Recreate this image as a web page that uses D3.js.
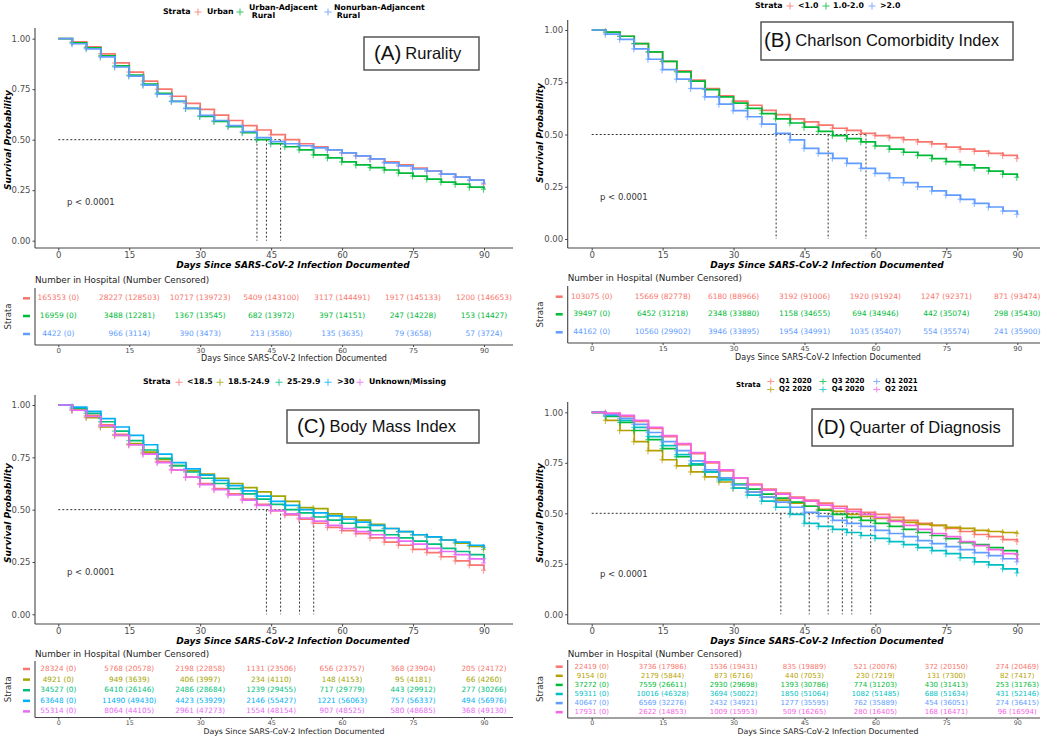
<!DOCTYPE html>
<html><head><meta charset="utf-8">
<script src="https://cdn.jsdelivr.net/npm/d3@7"></script>
<style>body{margin:0;background:#fff;} svg{display:block;font-family:"DejaVu Sans",sans-serif;}</style>
</head><body><svg id="c" width="1050" height="738"></svg>
<script>
// ---------- DATA ----------
const days = [0,3,6,9,12,15,18,21,24,27,30,33,36,39,42,45,48,51,54,57,60,63,66,69,72,75,78,81,84,87,90];
const xTicks = [0,15,30,45,60,75,90];
const yTicks = [0,0.25,0.5,0.75,1];

// (A) Rurality
const ruralityLabels = [["Urban"],["Urban-Adjacent"," Rural"],["Nonurban-Adjancent"," Rural"]];
const ruralityUrban = [1.00,0.985,0.96,0.925,0.88,0.835,0.79,0.75,0.715,0.68,0.65,0.622,0.595,0.57,0.548,0.525,0.50,0.48,0.465,0.45,0.435,0.42,0.405,0.39,0.375,0.36,0.345,0.33,0.315,0.30,0.28];
const ruralityAdj = [1.00,0.98,0.955,0.915,0.865,0.82,0.775,0.73,0.69,0.655,0.615,0.59,0.565,0.535,0.50,0.48,0.465,0.45,0.425,0.41,0.39,0.375,0.362,0.35,0.335,0.32,0.305,0.29,0.28,0.265,0.255];
const ruralityNon = [1.00,0.975,0.95,0.91,0.86,0.815,0.77,0.725,0.69,0.655,0.62,0.595,0.57,0.54,0.51,0.49,0.48,0.47,0.46,0.45,0.435,0.42,0.405,0.385,0.37,0.355,0.345,0.33,0.315,0.30,0.285];
const ruralityMedians = [42,44,47];
const riskUrban = ["165353 (0)","28227 (128503)","10717 (139723)","5409 (143100)","3117 (144491)","1917 (145133)","1200 (146653)"];
const riskAdj = ["16959 (0)","3488 (12281)","1367 (13545)","682 (13972)","397 (14151)","247 (14228)","153 (14427)"];
const riskNon = ["4422 (0)","966 (3114)","390 (3473)","213 (3580)","135 (3635)","79 (3658)","57 (3724)"];

// (B) Charlson
const cciLabels = [["<1.0"],["1.0-2.0"],[">2.0"]];
const cciLow = [1.00,0.99,0.97,0.935,0.895,0.85,0.805,0.76,0.72,0.685,0.66,0.64,0.615,0.595,0.575,0.56,0.545,0.53,0.52,0.505,0.495,0.485,0.475,0.465,0.455,0.44,0.43,0.42,0.41,0.40,0.385];
const cciMid = [1.00,0.99,0.97,0.935,0.895,0.85,0.80,0.755,0.715,0.68,0.65,0.625,0.60,0.575,0.555,0.535,0.515,0.495,0.48,0.465,0.445,0.43,0.415,0.40,0.385,0.37,0.355,0.34,0.325,0.31,0.295];
const cciHigh = [1.00,0.98,0.955,0.91,0.86,0.81,0.765,0.72,0.68,0.645,0.614,0.585,0.55,0.505,0.474,0.434,0.41,0.386,0.362,0.338,0.314,0.293,0.27,0.25,0.23,0.21,0.19,0.17,0.153,0.134,0.118];
const cciMedians = [39,50,58];
const riskLow = ["103075 (0)","15669 (82778)","6180 (88966)","3192 (91006)","1920 (91924)","1247 (92371)","871 (93474)"];
const riskMid = ["39497 (0)","6452 (31218)","2348 (33880)","1158 (34655)","694 (34946)","442 (35074)","298 (35430)"];
const riskHigh = ["44162 (0)","10560 (29902)","3946 (33895)","1954 (34991)","1035 (35407)","554 (35574)","241 (35900)"];

// (C) BMI
const bmiLabels = [["<18.5"],["18.5-24.9"],["25-29.9"],[">30"],["Unknown/Missing"]];
const bmiUnder = [1.00,0.98,0.95,0.905,0.86,0.81,0.77,0.73,0.69,0.655,0.625,0.60,0.575,0.55,0.525,0.495,0.475,0.455,0.435,0.415,0.40,0.385,0.365,0.345,0.33,0.31,0.295,0.275,0.255,0.235,0.21];
const bmiNormal = [1.00,0.975,0.94,0.895,0.855,0.815,0.775,0.74,0.71,0.685,0.67,0.65,0.625,0.605,0.585,0.565,0.54,0.51,0.505,0.48,0.465,0.45,0.43,0.41,0.395,0.38,0.37,0.355,0.34,0.325,0.31];
const bmiOver = [1.00,0.985,0.96,0.92,0.875,0.83,0.785,0.745,0.71,0.68,0.65,0.625,0.60,0.575,0.55,0.525,0.50,0.485,0.465,0.45,0.435,0.415,0.40,0.38,0.365,0.35,0.335,0.315,0.30,0.285,0.265];
const bmiObese = [1.00,0.99,0.97,0.935,0.895,0.855,0.81,0.765,0.725,0.695,0.665,0.64,0.615,0.59,0.565,0.54,0.52,0.50,0.485,0.47,0.455,0.44,0.425,0.41,0.395,0.38,0.37,0.355,0.345,0.33,0.32];
const bmiUnknown = [1.00,0.975,0.945,0.90,0.855,0.81,0.765,0.725,0.69,0.655,0.62,0.595,0.57,0.545,0.52,0.495,0.48,0.46,0.445,0.425,0.41,0.395,0.38,0.365,0.35,0.335,0.315,0.30,0.285,0.265,0.245];
const bmiMedians = [44,47,51,54];
const riskUnder = ["28324 (0)","5768 (20578)","2198 (22858)","1131 (23506)","656 (23757)","368 (23904)","205 (24172)"];
const riskNormal = ["4921 (0)","949 (3639)","406 (3997)","234 (4110)","148 (4153)","95 (4181)","66 (4260)"];
const riskOver = ["34527 (0)","6410 (26146)","2486 (28684)","1239 (29455)","717 (29779)","443 (29912)","277 (30266)"];
const riskObese = ["63648 (0)","11490 (49430)","4423 (53929)","2146 (55427)","1221 (56063)","757 (56337)","494 (56976)"];
const riskUnknown = ["55314 (0)","8064 (44105)","2961 (47273)","1554 (48154)","907 (48525)","580 (48685)","368 (49130)"];

// (D) Quarter
const qLabels = [["Q1 2020"],["Q2 2020"],["Q3 2020"],["Q4 2020"],["Q1 2021"],["Q2 2021"]];
const q1_2020 = [1.00,0.995,0.98,0.955,0.92,0.88,0.84,0.795,0.75,0.71,0.675,0.645,0.62,0.60,0.58,0.565,0.55,0.535,0.52,0.505,0.495,0.48,0.465,0.45,0.44,0.425,0.41,0.395,0.385,0.37,0.36];
const q2_2020 = [1.00,0.96,0.91,0.855,0.81,0.765,0.735,0.705,0.68,0.655,0.625,0.605,0.58,0.565,0.55,0.535,0.52,0.51,0.495,0.485,0.475,0.465,0.455,0.445,0.44,0.43,0.425,0.415,0.41,0.405,0.40];
const q3_2020 = [1.00,0.98,0.95,0.91,0.865,0.82,0.78,0.74,0.705,0.675,0.645,0.62,0.595,0.575,0.555,0.535,0.515,0.495,0.48,0.465,0.45,0.435,0.42,0.405,0.39,0.375,0.355,0.345,0.33,0.315,0.295];
const q4_2020 = [1.00,0.985,0.96,0.925,0.88,0.835,0.79,0.745,0.705,0.665,0.625,0.59,0.56,0.53,0.495,0.45,0.435,0.42,0.405,0.39,0.376,0.36,0.345,0.33,0.315,0.30,0.28,0.26,0.245,0.225,0.205];
const q1_2021 = [1.00,0.99,0.97,0.94,0.90,0.855,0.81,0.76,0.715,0.675,0.64,0.605,0.58,0.555,0.53,0.505,0.485,0.465,0.45,0.435,0.415,0.40,0.385,0.365,0.35,0.335,0.32,0.305,0.29,0.275,0.26];
const q2_2021 = [1.00,0.995,0.985,0.96,0.925,0.885,0.845,0.80,0.755,0.715,0.675,0.64,0.615,0.595,0.575,0.56,0.54,0.525,0.51,0.495,0.48,0.46,0.44,0.42,0.40,0.385,0.36,0.34,0.32,0.30,0.275];
const qMedians = [40,46,50,53,55,59];
const riskQ1_20 = ["22419 (0)","3736 (17986)","1536 (19431)","835 (19889)","521 (20076)","372 (20150)","274 (20469)"];
const riskQ2_20 = ["9154 (0)","2179 (5844)","873 (6716)","440 (7053)","230 (7219)","131 (7300)","82 (7417)"];
const riskQ3_20 = ["37272 (0)","7559 (26611)","2930 (29698)","1393 (30786)","774 (31203)","430 (31413)","253 (31763)"];
const riskQ4_20 = ["59311 (0)","10016 (46328)","3694 (50022)","1850 (51064)","1082 (51485)","688 (51634)","431 (52146)"];
const riskQ1_21 = ["40647 (0)","6569 (32276)","2432 (34921)","1277 (35595)","762 (35889)","454 (36051)","274 (36415)"];
const riskQ2_21 = ["17931 (0)","2622 (14853)","1009 (15953)","509 (16265)","280 (16405)","168 (16471)","96 (16594)"];

// ---------- STYLE ----------
const pal3 = ["#F8766D","#00BA38","#619CFF"];
const pal5 = ["#F8766D","#A3A500","#00BF7D","#00B0F6","#E76BF3"];
const pal6 = ["#F8766D","#B79F00","#00BA38","#00BFC4","#619CFF","#F564E3"];

const svg = d3.select("#c");
const axisCol = "#444";
const xTitle = "Days Since SARS-CoV-2 Infection Documented";

function drawPanel(P) {
  const g = svg.append("g");
  const x = d3.scaleLinear().domain([0,90]).range([P.x0, P.x90]);
  const y = d3.scaleLinear().domain([0,1]).range([P.y0, P.y1]);

  g.append("line").attr("x1",P.axisX).attr("x2",P.axisX).attr("y1",P.yTop).attr("y2",P.axisY)
    .attr("stroke",axisCol).attr("stroke-width",1.1);
  g.append("line").attr("x1",P.axisX).attr("x2",P.xEnd).attr("y1",P.axisY).attr("y2",P.axisY)
    .attr("stroke",axisCol).attr("stroke-width",1.1);

  const ya = g.append("g").attr("transform",`translate(${P.axisX},0)`)
    .call(d3.axisLeft(y).tickValues(yTicks).tickFormat(d3.format(".2f")).tickSize(2.5).tickPadding(2));
  ya.select(".domain").remove();
  ya.selectAll("line").attr("stroke",axisCol);
  ya.selectAll("text").attr("font-size",8.5).attr("fill","#4d4d4d").attr("font-family","DejaVu Sans");

  const xa = g.append("g").attr("transform",`translate(0,${P.axisY})`)
    .call(d3.axisBottom(x).tickValues(xTicks).tickSize(2.5).tickPadding(1.5));
  xa.select(".domain").remove();
  xa.selectAll("line").attr("stroke",axisCol);
  xa.selectAll("text").attr("font-size",8.5).attr("fill","#4d4d4d").attr("font-family","DejaVu Sans");

  g.append("text").attr("transform",`translate(${P.ylabX},${P.ylabY}) rotate(-90)`)
    .attr("text-anchor","middle").attr("dominant-baseline","middle")
    .attr("font-size",9).attr("font-weight","bold").attr("font-style","italic").text("Survival Probability");
  g.append("text").attr("x",P.xtitleX).attr("y",P.xtitleY).attr("text-anchor","middle").attr("dominant-baseline","middle")
    .attr("font-size",9).attr("font-weight","bold").attr("font-style","italic").text(xTitle);

  // median lines
  const mMax = d3.max(P.medians);
  g.append("line").attr("x1",x(0)).attr("x2",x(mMax)).attr("y1",y(0.5)).attr("y2",y(0.5))
    .attr("stroke","#333").attr("stroke-width",1).attr("stroke-dasharray","2,2");
  P.medians.forEach(m => {
    g.append("line").attr("x1",x(m)).attr("x2",x(m)).attr("y1",y(0.5)).attr("y2",y(0))
      .attr("stroke","#333").attr("stroke-width",1).attr("stroke-dasharray","2,2");
  });

  // curves
  const line = d3.line().curve(d3.curveStepAfter).x(d=>x(d[0])).y(d=>y(d[1]));
  P.series.forEach((s,i) => {
    const pts = days.map((d,j)=>[d,s[j]]);
    g.append("path").attr("d",line(pts)).attr("fill","none").attr("stroke",P.colors[i]).attr("stroke-width",1.7);
    const mg = g.append("g").attr("stroke",P.colors[i]).attr("stroke-width",1.2).attr("opacity",0.65);
    pts.slice(1).forEach(p => {
      const cx = x(p[0]) - 0.5, cy = y(p[1]);
      mg.append("line").attr("x1",cx).attr("x2",cx).attr("y1",cy-3.5).attr("y2",cy+3.5);
      mg.append("line").attr("x1",cx-2.5).attr("x2",cx+2.5).attr("y1",cy).attr("y2",cy);
    });
  });

  g.append("text").attr("x",P.pX).attr("y",P.pY).attr("dominant-baseline","middle")
    .attr("font-size",8.5).attr("fill","#333").text("p < 0.0001");

  const b = P.box;
  g.append("rect").attr("x",b[0]).attr("y",b[1]).attr("width",b[2]-b[0]).attr("height",b[3]-b[1])
    .attr("fill","#fff").attr("stroke","#555").attr("stroke-width",1.5);
  const tt = g.append("text").attr("x",b[0]+P.boxPad).attr("y",(b[1]+b[3])/2+1).attr("dominant-baseline","middle")
    .attr("font-family","Liberation Sans, Arial, sans-serif").attr("fill","#111");
  tt.append("tspan").attr("font-size",20.5).text(P.tag);
  tt.append("tspan").attr("font-size",16.5).attr("dx",4).text(P.title);

  const L = P.legend;
  const lfs = L.fs || 7.8;
  g.append("text").attr("x",L.strataX).attr("y",L.strataY).attr("dominant-baseline","middle")
    .attr("font-size",lfs).attr("font-weight","bold").text("Strata");
  P.labels.forEach((lab,i) => {
    const px = L.plusX[i], py = L.rowY[i];
    const ps = L.plus || 3.5;
    const lg = g.append("g").attr("stroke",P.colors[i]).attr("stroke-width",1.1).attr("opacity",0.75);
    lg.append("line").attr("x1",px).attr("x2",px).attr("y1",py-ps).attr("y2",py+ps);
    lg.append("line").attr("x1",px-3.5).attr("x2",px+3.5).attr("y1",py).attr("y2",py);
    const t = g.append("text").attr("font-size",lfs).attr("font-weight","bold");
    if (lab.length === 1) {
      t.attr("x",L.textX[i]).attr("y",py).attr("dominant-baseline","middle").text(lab[0]);
    } else {
      lab.forEach((ln,k) => {
        t.append("tspan").attr("x",L.textX[i]).attr("y",py-4+k*8).attr("dominant-baseline","middle")
          .style("white-space","pre").text(ln);
      });
    }
  });

  const T = P.table;
  g.append("text").attr("x",P.axisX).attr("y",T.headY).attr("dominant-baseline","middle")
    .attr("font-size",8.8).attr("fill","#222").text("Number in Hospital (Number Censored)");
  g.append("line").attr("x1",P.axisX).attr("x2",P.axisX).attr("y1",T.top).attr("y2",T.bottom)
    .attr("stroke",axisCol).attr("stroke-width",1.1);
  g.append("line").attr("x1",P.axisX).attr("x2",P.xEnd).attr("y1",T.bottom).attr("y2",T.bottom)
    .attr("stroke",axisCol).attr("stroke-width",1.1);
  const ta = g.append("g").attr("transform",`translate(0,${T.bottom})`)
    .call(d3.axisBottom(x).tickValues(xTicks).tickSize(2).tickPadding(1));
  ta.select(".domain").remove();
  ta.selectAll("line").attr("stroke",axisCol);
  ta.selectAll("text").attr("font-size",T.tickFs).attr("fill","#4d4d4d").attr("font-family","DejaVu Sans");
  g.append("text").attr("x",T.titleX).attr("y",T.titleY).attr("text-anchor","middle").attr("dominant-baseline","middle")
    .attr("font-size",T.titleFs).attr("fill","#222").text(xTitle);
  g.append("text").attr("transform",`translate(${P.ylabX},${(T.top+T.bottom)/2}) rotate(-90)`)
    .attr("text-anchor","middle").attr("dominant-baseline","middle")
    .attr("font-size",8.5).attr("fill","#333").text("Strata");
  P.risk.forEach((row,i) => {
    const ry = T.rows[i];
    g.append("line").attr("x1",P.axisX-12).attr("x2",P.axisX-5).attr("y1",ry).attr("y2",ry)
      .attr("stroke",P.colors[i]).attr("stroke-width",2.5);
    row.forEach((txt,j) => {
      g.append("text").attr("x",x(xTicks[j])).attr("y",ry).attr("text-anchor","middle").attr("dominant-baseline","middle")
        .attr("font-size",T.fs).attr("fill",P.colors[i]).text(txt);
    });
  });
}

const leftCol = {axisX:35, xEnd:513, x0:58.3, x90:484, ylabX:8, xtitleX:293};
const rightCol = {axisX:567.7, xEnd:1040, x0:591.7, x90:1017.3, ylabX:540, xtitleX:827};

drawPanel(Object.assign({}, leftCol, {
  y1:38.7, y0:240.7, yTop:28, axisY:248, ylabY:140, xtitleY:265.5, pX:67, pY:202,
  box:[364,37,479,70], boxPad:10, tag:"(A)", title:"Rurality",
  series:[ruralityUrban,ruralityAdj,ruralityNon], colors:pal3, medians:ruralityMedians, labels:ruralityLabels,
  legend:{strataX:163, strataY:12.3, plusX:[198,240,328], textX:[207,249,334], rowY:[12,12,12]},
  risk:[riskUrban,riskAdj,riskNon],
  table:{headY:280, top:288, bottom:345, rows:[298.3,316,334], titleX:294, titleY:358.5, fs:7.5, tickFs:7, titleFs:8}
}));

drawPanel(Object.assign({}, rightCol, {
  y1:30, y0:239, yTop:20, axisY:248, ylabY:133, xtitleY:265.5, pX:600, pY:197,
  box:[761,22,1013,60], boxPad:3, tag:"(B)", title:"Charlson Comorbidity Index",
  series:[cciLow,cciMid,cciHigh], colors:pal3, medians:cciMedians, labels:cciLabels,
  legend:{strataX:755, strataY:6, plusX:[790,826,872], textX:[798,833,880], rowY:[6,6,6]},
  risk:[riskLow,riskMid,riskHigh],
  table:{headY:278, top:286, bottom:343, rows:[296.7,314.3,332.3], titleX:828, titleY:357.5, fs:7.5, tickFs:7, titleFs:8}
}));

drawPanel(Object.assign({}, leftCol, {
  y1:405, y0:614.3, yTop:395, axisY:624, ylabY:513, xtitleY:641.5, pX:67, pY:572.7,
  box:[287,410,479,443], boxPad:10, tag:"(C)", title:"Body Mass Index",
  series:[bmiUnder,bmiNormal,bmiOver,bmiObese,bmiUnknown], colors:pal5, medians:bmiMedians, labels:bmiLabels,
  legend:{strataX:143, strataY:382.3, plusX:[179,220,279,328,360], textX:[187,228,287,337,369], rowY:[382.3,382.3,382.3,382.3,382.3]},
  risk:[riskUnder,riskNormal,riskOver,riskObese,riskUnknown],
  table:{headY:654, top:661, bottom:717.5, rows:[669,679.6,690.2,700.8,711.4], titleX:294, titleY:732, fs:7.3, tickFs:6.3, titleFs:7.8}
}));

drawPanel(Object.assign({}, rightCol, {
  y1:412.3, y0:614.3, yTop:402, axisY:624, ylabY:513, xtitleY:641.5, pX:600, pY:574,
  box:[812,409,1013,446], boxPad:5, tag:"(D)", title:"Quarter of Diagnosis",
  series:[q1_2020,q2_2020,q3_2020,q4_2020,q1_2021,q2_2021], colors:pal6, medians:qMedians, labels:qLabels,
  legend:{fs:7, plus:3, strataX:736, strataY:385.5, plusX:[770.7,770.7,823,823,876.7,876.7], textX:[779,779,831.7,831.7,885,885], rowY:[381.5,389.5,381.5,389.5,381.5,389.5]},
  risk:[riskQ1_20,riskQ2_20,riskQ3_20,riskQ4_20,riskQ1_21,riskQ2_21],
  table:{headY:654, top:660, bottom:718, rows:[666.7,675.8,684.9,694,703.1,712.2], titleX:828, titleY:732, fs:7, tickFs:6.3, titleFs:7.8}
}));
</script>
</body></html>
